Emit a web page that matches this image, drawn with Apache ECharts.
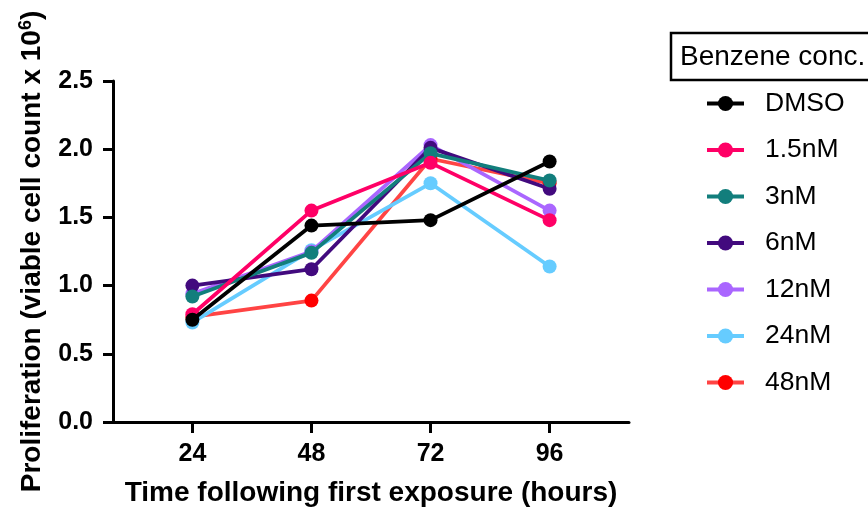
<!DOCTYPE html>
<html>
<head>
<meta charset="utf-8">
<script src="https://cdn.jsdelivr.net/npm/echarts@6/dist/echarts.min.js"></script>
<style>
  html, body { margin: 0; padding: 0; background: #fff; }
  #chart { width: 868px; height: 513px; }
</style>
</head>
<body>
<div id="chart"></div>
<script>
// Sampling times (hours after first exposure)
const hours = [24, 48, 72, 96];

// Series names (legend order)
const seriesNames = ['DMSO', '1.5nM', '3nM', '6nM', '12nM', '24nM', '48nM'];

// Viable cell count (x 10^6) per time point
const dmso   = [0.75, 1.44, 1.48, 1.91];
const nM1_5  = [0.79, 1.55, 1.90, 1.48];
const nM3    = [0.92, 1.24, 1.97, 1.77];
const nM6    = [1.00, 1.12, 2.01, 1.71];
const nM12   = [0.94, 1.25, 2.03, 1.55];
const nM24   = [0.73, 1.26, 1.75, 1.14];
const nM48   = [0.77, 0.89, 1.93, 1.75];

const values = [dmso, nM1_5, nM3, nM6, nM12, nM24, nM48];

const markerColors = ['#000000', '#FF0066', '#127E7C', '#420A7E', '#AA66FF', '#66CCFF', '#FF0000'];
const lineColors   = ['#000000', '#FF0066', '#127E7C', '#420A7E', '#AA66FF', '#66CCFF', '#FF4444'];

const FONT = "'Liberation Sans', Arial, sans-serif";

const series = seriesNames.map((name, i) => ({
  name: name,
  type: 'line',
  data: hours.map((h, j) => [h, values[i][j]]),
  symbol: 'circle',
  symbolSize: 14,
  showSymbol: true,
  lineStyle: { color: lineColors[i], width: 3.8 },
  itemStyle: { color: markerColors[i] },
  // later concentrations sit underneath, DMSO on top
  z: 10 + (seriesNames.length - i),
  animation: false
}));

const chart = echarts.init(document.getElementById('chart'), null, { renderer: 'canvas' });

chart.setOption({
  backgroundColor: '#ffffff',
  animation: false,
  grid: { left: 113, right: 239, top: 81, bottom: 91, containLabel: false },
  xAxis: {
    type: 'value',
    min: 8,
    max: 112,
    name: 'Time following first exposure (hours)',
    nameLocation: 'middle',
    nameGap: 57,
    nameTextStyle: { fontFamily: FONT, fontWeight: 'bold', fontSize: 28, color: '#000' },
    axisLine: { onZero: false, lineStyle: { color: '#000', width: 3 } },
    axisTick: { show: true, length: 11, lineStyle: { color: '#000', width: 3 }, customValues: hours },
    axisLabel: { customValues: hours, margin: 20, fontFamily: FONT, fontWeight: 'bold', fontSize: 25, color: '#000' },
    splitLine: { show: false }
  },
  yAxis: {
    type: 'value',
    min: 0,
    max: 2.5,
    interval: 0.5,
    name: '{a|Proliferation (viable cell count x 10}{s|6}{a|)}',
    nameLocation: 'middle',
    nameGap: 66,
    nameTextStyle: {
      rich: {
        a: { fontFamily: FONT, fontWeight: 'bold', fontSize: 28, color: '#000', lineHeight: 30 },
        s: { fontFamily: FONT, fontWeight: 'bold', fontSize: 18, color: '#000', verticalAlign: 'top', lineHeight: 30 }
      }
    },
    axisLine: { show: true, lineStyle: { color: '#000', width: 3 } },
    axisTick: { show: true, length: 10, lineStyle: { color: '#000', width: 3 } },
    axisLabel: {
      margin: 20,
      fontFamily: FONT, fontWeight: 'bold', fontSize: 25, color: '#000',
      formatter: v => v.toFixed(1)
    },
    splitLine: { show: false }
  },
  legend: {
    orient: 'vertical',
    left: 705,
    top: 90,
    padding: 0,
    itemWidth: 37,
    itemHeight: 19,
    itemGap: 19.5,
    data: seriesNames,
    lineStyle: { width: 4 },
    textStyle: { fontFamily: FONT, fontSize: 26.5, color: '#000', lineHeight: 19, padding: [0, 0, 0, 16] }
  },
  graphic: [
    {
      type: 'rect',
      shape: { x: 671, y: 33, width: 220, height: 47 },
      style: { fill: '#fff', stroke: '#000', lineWidth: 2.5 }
    },
    {
      type: 'text',
      x: 680,
      y: 57,
      style: { text: 'Benzene conc.', fontFamily: FONT, fontSize: 28, fill: '#000', verticalAlign: 'middle', align: 'left' }
    }
  ],
  series: series
});
</script>
</body>
</html>
